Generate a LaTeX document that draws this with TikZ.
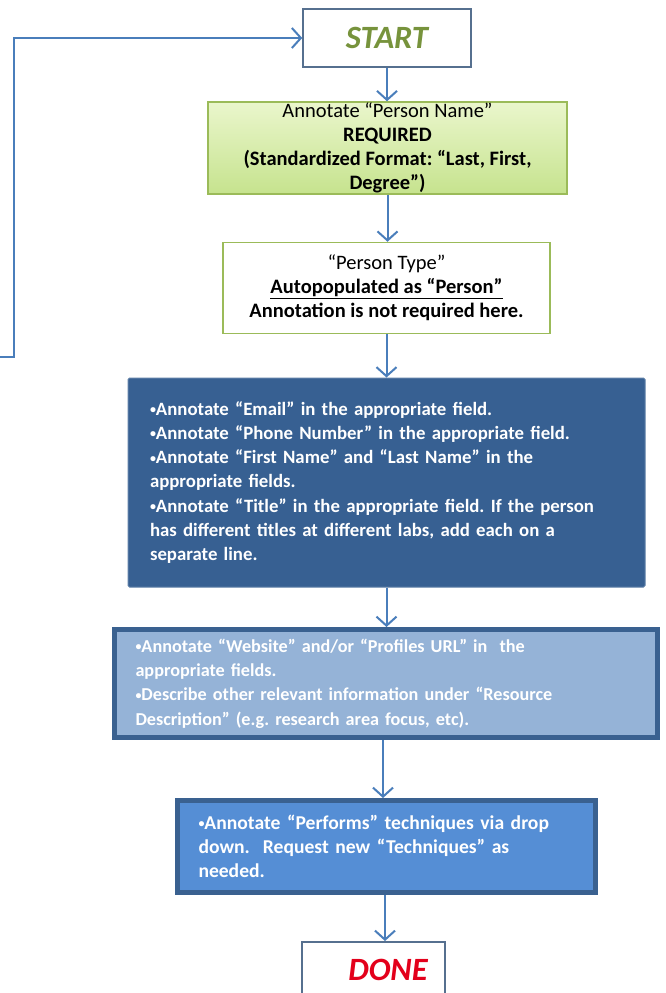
\documentclass[tikz,border=0pt]{standalone}
\usepackage{fontspec}
\setmainfont{Carlito}
\usetikzlibrary{arrows.meta}
\definecolor{arrowblue}{HTML}{4A7EBB}
\definecolor{framegray}{HTML}{56708F}
\definecolor{greenborder}{HTML}{9BBB59}
\definecolor{greentop}{HTML}{EAF6CC}
\definecolor{greenbot}{HTML}{C6E38E}
\definecolor{darkfill}{HTML}{376092}
\definecolor{lightfill}{HTML}{95B3D7}
\definecolor{midfill}{HTML}{558ED5}
\definecolor{thickborder}{HTML}{3A6190}
\definecolor{startgreen}{HTML}{77933C}
\definecolor{donered}{HTML}{E3001B}
\newcommand{\bul}{\raisebox{1.5pt}{\fontsize{12}{12}\selectfont•}}
\tikzset{
  conn/.style={draw=arrowblue, line width=2pt, -{Straight Barb[length=9pt,width=20pt,line width=2pt]}},
  termbox/.style={draw=framegray, line width=1.5pt, fill=white, minimum width=168pt, minimum height=58pt, inner sep=0pt, font=\fontsize{32.5}{36}\selectfont\bfseries\itshape},
  bluebox/.style={align=left, anchor=center, inner ysep=0pt, font=\fontsize{18.8}{24.3}\selectfont\bfseries\frenchspacing, text=white},
  greentext/.style={align=center, inner sep=0pt, font=\fontsize{20.5}{24}\selectfont\frenchspacing},
}
\begin{document}
\begin{tikzpicture}[x=1pt,y=-1pt]
\clip (0,0) rectangle (666,993);
\fill[white] (0,0) rectangle (666,993);

% START
\node[termbox, text=startgreen] (start) at (387,38) {START};

% Green box
\node[draw=greenborder, line width=1.5pt, top color=greentop, bottom color=greenbot,
      minimum width=359pt, minimum height=92pt, greentext] (name) at (387.5,148)
  {Annotate “Person Name”\\ \textbf{REQUIRED}\\ \textbf{(Standardized Format: “Last, First,}\\ \textbf{Degree”)}};

% Person type box
\node[draw=greenborder, line width=1.5pt, fill=white,
      minimum width=327pt, minimum height=91pt, greentext] (ptype) at (386.5,288)
  {“Person Type”\\ \textbf{\underline{Autopopulated as “Person”}}\\ \textbf{Annotation is not required here.}};

% Dark blue box
\node[draw=darkfill!80!white, line width=1pt, fill=darkfill, rounded corners=1.5pt,
      minimum width=517pt, minimum height=209pt, inner xsep=22pt, text width=473pt,
      bluebox] (contact) at (386.5,482.5)
  {\bul Annotate “Email” in the appropriate field.\\
   \bul Annotate “Phone Number” in the appropriate field.\\
   \bul Annotate “First Name” and “Last Name” in the\\
   appropriate fields.\\
   \bul Annotate “Title” in the appropriate field. If the person\\
   has different titles at different labs, add each on a\\
   separate line.};

% Light blue box
\node[draw=thickborder, line width=5pt, fill=lightfill,
      minimum width=543pt, minimum height=108pt, inner xsep=21pt, text width=501pt,
      bluebox, font=\fontsize{18.2}{24.3}\selectfont\bfseries\frenchspacing] (web) at (386,683.5)
  {\bul Annotate “Website” and/or “Profiles URL” in~ the\\
   appropriate fields.\\
   \bul Describe other relevant information under “Resource\\
   Description” (e.g. research area focus, etc).};

% Medium blue box
\node[draw=thickborder, line width=5pt, fill=midfill,
      minimum width=418pt, minimum height=92pt, inner xsep=21pt, text width=376pt,
      bluebox, font=\fontsize{19.6}{24.3}\selectfont\bfseries\frenchspacing] (tech) at (386.5,846.5)
  {\bul Annotate “Performs” techniques via drop\\
   down.~ Request new “Techniques” as\\
   needed.};

% DONE
\node[termbox, minimum width=143pt, minimum height=70pt, anchor=north] (done) at (373.5,941) {};
\node[text=donered, font=\fontsize{32.5}{36}\selectfont\bfseries\itshape] (donetxt) at (388,970) {DONE};

% Connectors
\draw[conn] (start.south) -- (start.south |- name.north);
\draw[conn] (name.south) -- (name.south |- ptype.north);
\draw[conn] (ptype.south) -- (ptype.south |- contact.north);
\draw[conn] (contact.south) -- (contact.south |- web.north);
\draw[conn] ([xshift=-3pt]web.south) -- ([xshift=-3pt]web.south |- tech.north);
\draw[conn] ([xshift=-1.5pt]tech.south) -- ([xshift=-1.5pt]tech.south |- done.north);

% Feedback loop
\coordinate (loopend) at (0,357);
\coordinate (loopcorner) at (14,357);
\draw[conn] (loopend) -- (loopcorner) -- (loopcorner |- start.west) -- (start.west);
\end{tikzpicture}
\end{document}
